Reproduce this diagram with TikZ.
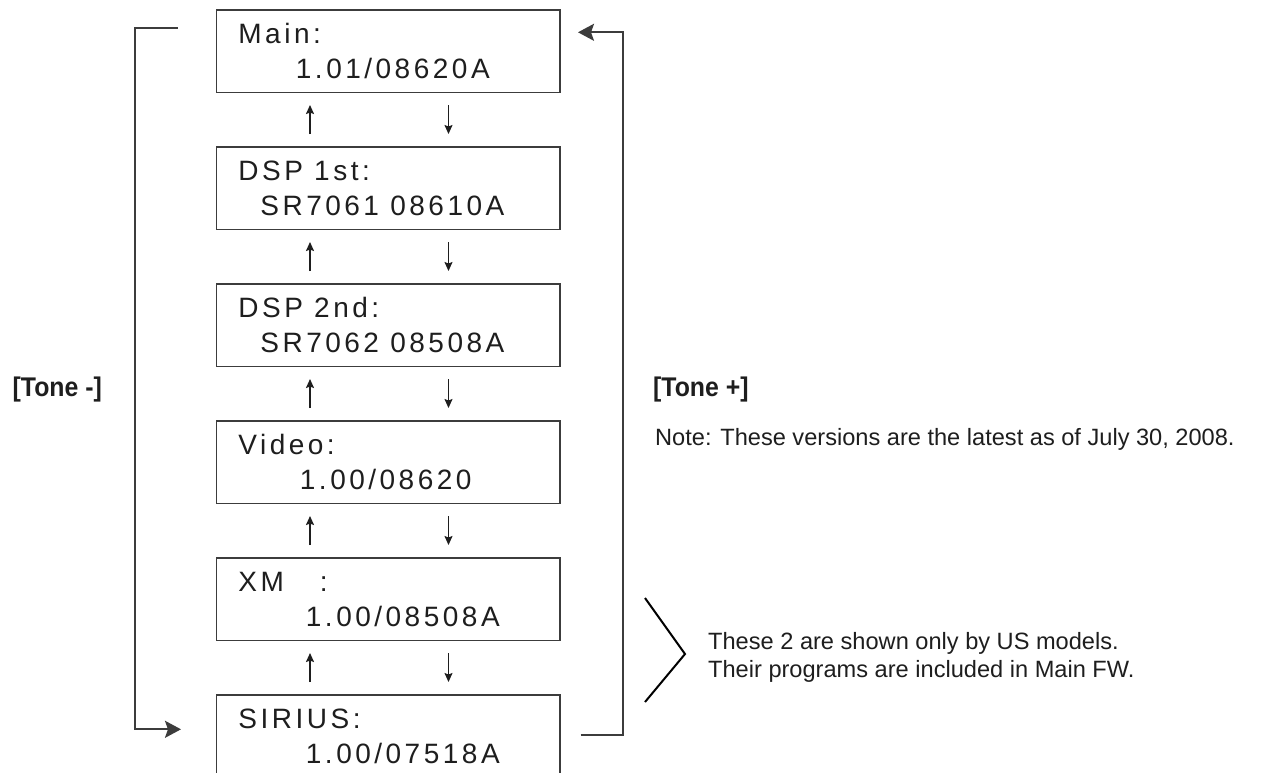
\documentclass[tikz,border=0pt]{standalone}
\usepackage{fontspec}
\setmainfont{Liberation Sans}
\newfontfamily\boxfont[LetterSpace=12.5]{Liberation Sans}
\newfontfamily\tonefont[FakeStretch=0.92]{Liberation Sans}
\usetikzlibrary{arrows.meta,calc}
\definecolor{linegray}{HTML}{3C3C3C}
\definecolor{txt}{HTML}{1E1E1E}
\begin{document}
\begin{tikzpicture}[x=1pt,y=-1pt,
  fwbox/.style={draw=linegray, line width=1.5pt, minimum width=343.3pt, minimum height=82.5pt, inner sep=0pt, anchor=north west},
  boxtxt/.style={anchor=base west, inner sep=0pt, text=txt, font=\boxfont\fontsize{28}{34}\selectfont},
  sarr/.style={-{Stealth[length=9pt,width=8pt,inset=1.5pt]}, line width=1.5pt, draw=txt, shorten >=12pt, shorten <=12pt},
  barr/.style={-{Stealth[length=16pt,width=17pt,inset=3pt]}, line width=2pt, draw=linegray},
  tone/.style={anchor=base west, inner sep=0pt, text=txt, font=\tonefont\bfseries\fontsize{27}{32}\selectfont},
  note/.style={anchor=base west, inner sep=0pt, text=txt, font=\fontsize{23.6}{28}\selectfont}
]
\clip (0,0) rectangle (1269,772);
\fill[white] (0,0) rectangle (1269,772);

% boxes
\node[fwbox] (m)  at (215.7,9)   {};
\node[fwbox] (d1) at (215.7,146) {};
\node[fwbox] (d2) at (215.7,283) {};
\node[fwbox] (v)  at (215.7,420) {};
\node[fwbox] (xm) at (215.7,557) {};
\node[fwbox] (s)  at (215.7,694) {};

% box texts
\node[boxtxt] (mt1)  at ($(m.north west)+(22.5,34)$)  {Main:};
\node[boxtxt] (mt2)  at ($(m.north west)+(80,69)$)    {1.01/08620A};
\node[boxtxt] (d1t1) at ($(d1.north west)+(22.5,34)$) {DSP 1st:};
\node[boxtxt] (d1t2) at ($(d1.north west)+(44.5,69)$) {SR7061 08610A};
\node[boxtxt] (d2t1) at ($(d2.north west)+(22.5,34)$) {DSP 2nd:};
\node[boxtxt] (d2t2) at ($(d2.north west)+(44.5,69)$) {SR7062 08508A};
\node[boxtxt] (vt1)  at ($(v.north west)+(22.5,34)$)  {Video:};
\node[boxtxt] (vt2)  at ($(v.north west)+(84,69)$)    {1.00/08620};
\node[boxtxt] (xt1)  at ($(xm.north west)+(22.5,34)$) {XM\hspace*{36pt}:};
\node[boxtxt] (xt2)  at ($(xm.north west)+(90,69)$)   {1.00/08508A};
\node[boxtxt] (st1)  at ($(s.north west)+(22.5,34)$)  {SIRIUS:};
\node[boxtxt] (st2)  at ($(s.north west)+(90,69)$)    {1.00/07518A};

% arrow columns
\coordinate (ux) at (310,0);
\coordinate (dx) at (448.5,0);
\foreach \a/\b in {m/d1,d1/d2,d2/v,v/xm,xm/s}{
  \draw[sarr] (\b.north -| ux) -- (\a.south -| ux);
  \draw[sarr] (\a.south -| dx) -- (\b.north -| dx);
}

% left bracket  [Tone -]
\coordinate (lstart) at (177.5,28);
\coordinate (lend)   at (181,729.3);
\draw[barr] (lstart) -- ++(-43,0) |- (lend);

% right bracket [Tone +]
\coordinate (rstart) at (580.7,735);
\coordinate (rend)   at (578,32.3);
\draw[barr] (rstart) -- ++(42,0) |- (rend);

% labels
\node[tone] (tminus) at (12.5,396) {[Tone -]};
\node[tone] (tplus)  at (653,396) {[Tone +]};
\node[note] (note)   at (655,445) {Note: These versions are the latest as of July 30, 2008.};

% chevron
\draw[line width=2pt, draw=black] (645,598) -- (685,654) -- (645,702);
\node[note] (us1) at (708,649) {These 2 are shown only by US models.};
\node[note] (us2) at (708,677) {Their programs are included in Main FW.};
\end{tikzpicture}
\end{document}
